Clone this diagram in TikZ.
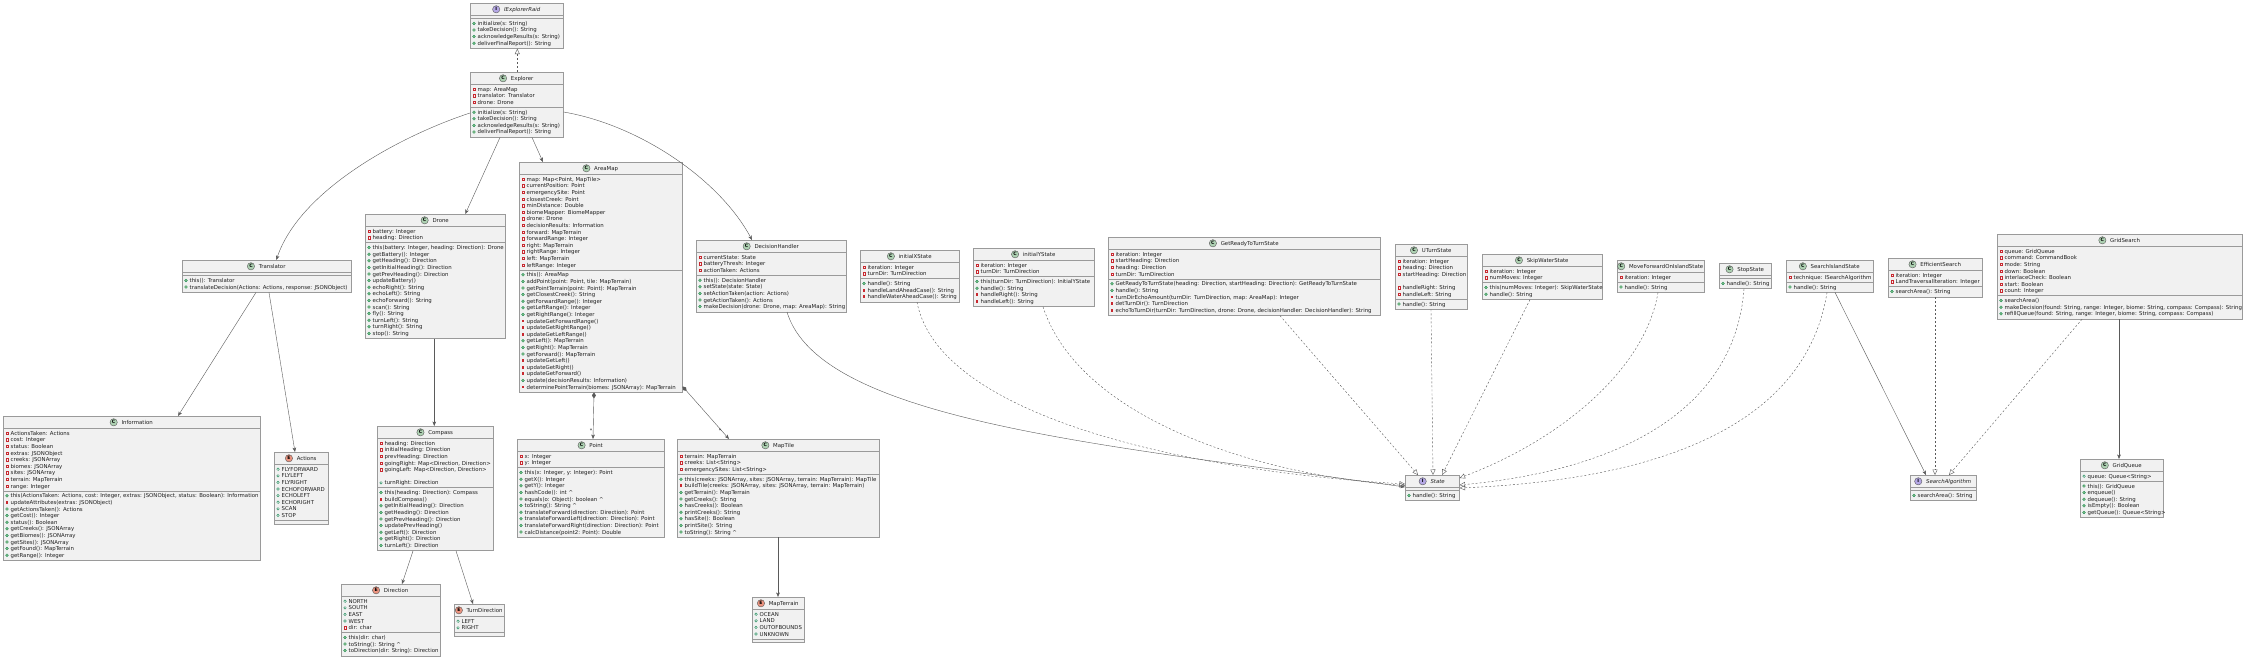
\documentclass[tikz,border=0pt]{standalone}
\usepackage{fontspec}
\setmainfont{DejaVu Sans}
\usetikzlibrary{arrows.meta,calc}
\definecolor{boxfill}{HTML}{F1F1F1}
\definecolor{boxline}{HTML}{9A9A9A}
\definecolor{conline}{HTML}{5A5A5A}
\definecolor{cicon}{HTML}{ADD1B2}
\definecolor{eicon}{HTML}{EB937F}
\definecolor{iicon}{HTML}{B4A7E5}
\definecolor{privc}{HTML}{C82930}
\definecolor{pubc}{HTML}{038048}
\definecolor{pubf}{HTML}{84BE84}
\definecolor{protc}{HTML}{B38D22}
\definecolor{txt}{HTML}{202020}
\newcommand\rowfont{\fontsize{5.4}{6.6}\selectfont}
\tikzset{
  umlbox/.style={draw=boxline,fill=boxfill,line width=0.55pt,inner sep=0pt,rectangle},
  sepline/.style={draw=boxline,line width=0.55pt},
  rowtext/.style={anchor=base west,inner sep=0pt,font=\rowfont,text=txt},
  titletext/.style={anchor=base,inner sep=0pt,font=\rowfont,text=txt},
  iconsty/.style={circle,draw=conline,line width=0.4pt,minimum size=7.3pt,inner sep=0pt,font=\bfseries\fontsize{4.6}{4.6}\selectfont,text=black},
  iconC/.style={fill=cicon},
  iconE/.style={fill=eicon},
  iconI/.style={fill=iicon},
  assoc/.style={draw=conline,line width=0.4pt,-{Stealth[length=4.5pt,width=3.6pt,inset=1.3pt]}},
  realize/.style={draw=conline,line width=0.4pt,dashed,dash pattern=on 2pt off 2pt,-{Triangle[open,length=5.5pt,width=5pt]}},
  compo/.style={draw=conline,line width=0.4pt,{Diamond[length=6pt,width=4pt]}-{Stealth[length=4.5pt,width=3.6pt,inset=1.3pt]}},
  mult/.style={font=\fontsize{5}{5}\selectfont,inner sep=0.5pt,text=txt}
}
\newcount\rowcount
\def\by{0}
\newcommand\R[2]{}
\newcommand\markpf{\draw[privc,line width=0.35pt,shift={(\bmx,\by)}] (-1.2,-1.2) rectangle (1.2,1.2);}
\newcommand\markpm{\fill[privc,shift={(\bmx,\by)}] (-1.4,-1.4) rectangle (1.4,1.4);}
\newcommand\markuf{\draw[pubc,line width=0.35pt] (\bmx,\by) circle[radius=1.3pt];}
\newcommand\markum{\fill[pubf,draw=pubc,line width=0.25pt] (\bmx,\by) circle[radius=1.45pt];}
\newcommand\marknn{}
\newcommand\rowdraw[2]{%
  \csname mark#1\endcsname
  \pgfmathsetmacro\bybase{\by+2}%
  \node[rowtext] at (\bxt,\bybase) {#2};%
  \pgfmathsetmacro\tmpy{\by+6.6}\global\let\by\tmpy
}
\newcommand\rowcnt[2]{\global\advance\rowcount by 1\relax}
\newcommand\umlclass[8]{%
  \let\R\rowcnt
  \global\rowcount=0 #7\edef\nattr{\the\rowcount}%
  \global\rowcount=0 #8\edef\nmeth{\the\rowcount}%
  \pgfmathsetmacro\sepA{#4+12.3}%
  \pgfmathsetmacro\sepB{\sepA+\nattr*6.6+3.2}%
  \pgfmathsetmacro\bot{\sepB+\nmeth*6.6+3.2}%
  \pgfmathsetmacro\bw{#3-#2}%
  \pgfmathsetmacro\bh{\bot-#4}%
  \node[umlbox,minimum width=\bw pt,minimum height=\bh pt,anchor=north west] (#1) at (#2,#4) {};%
  \draw[sepline] (#2,\sepA) -- (#3,\sepA) (#2,\sepB) -- (#3,\sepB);%
  \pgfmathsetmacro\tcx{(#2+#3)/2+5.65}%
  \pgfmathsetmacro\tcy{#4+8.3}%
  \node[titletext] (#1-t) at (\tcx,\tcy) {#6};%
  \node[iconsty,icon#5] (#1-i) at ($(#1-t.base west)+(-7.65,-2)$) {#5};%
  \pgfmathsetmacro\bmx{#2+4}%
  \pgfmathsetmacro\bxt{#2+7.5}%
  \let\R\rowdraw
  \pgfmathsetmacro\tmpy{\sepA+4.9}\global\let\by\tmpy
  #7%
  \pgfmathsetmacro\tmpy{\sepB+4.9}\global\let\by\tmpy
  #8%
}
\begin{document}
\begin{tikzpicture}[x=1pt,y=-1pt]
\fill[white] (0,0) rectangle (2244,658);
\useasboundingbox (0,0) rectangle (2244,658);

\umlclass{iexp}{470}{563}{3}{I}{\itshape IExplorerRaid}{}{%
\R{um}{initialize(s: String)}\R{um}{takeDecision(): String}\R{um}{acknowledgeResults(s: String)}\R{um}{deliverFinalReport(): String}}

\umlclass{explorer}{470}{563}{72}{C}{Explorer}{%
\R{pf}{map: AreaMap}\R{pf}{translator: Translator}\R{pf}{drone: Drone}}{%
\R{um}{initialize(s: String)}\R{um}{takeDecision(): String}\R{um}{acknowledgeResults(s: String)}\R{um}{deliverFinalReport(): String}}

\umlclass{translator}{182}{351}{260}{C}{Translator}{}{%
\R{um}{this(): Translator}\R{um}{translateDecision(Actions: Actions, response: JSONObject)}}

\umlclass{info}{3}{260}{416}{C}{Information}{%
\R{pf}{ActionsTaken: Actions}\R{pf}{cost: Integer}\R{pf}{status: Boolean}\R{pf}{extras: JSONObject}\R{pf}{creeks: JSONArray}\R{pf}{biomes: JSONArray}\R{pf}{sites: JSONArray}\R{pf}{terrain: MapTerrain}\R{pf}{range: Integer}}{%
\R{um}{this(ActionsTaken: Actions, cost: Integer, extras: JSONObject, status: Boolean): Information}\R{pm}{updateAttributes(extras: JSONObject)}\R{um}{getActionsTaken(): Actions}\R{um}{getCost(): Integer}\R{um}{status(): Boolean}\R{um}{getCreeks(): JSONArray}\R{um}{getBiomes(): JSONArray}\R{um}{getSites(): JSONArray}\R{um}{getFound(): MapTerrain}\R{um}{getRange(): Integer}}

\umlclass{actions}{274}{328}{452}{E}{Actions}{%
\R{uf}{FLYFORWARD}\R{uf}{FLYLEFT}\R{uf}{FLYRIGHT}\R{uf}{ECHOFORWARD}\R{uf}{ECHOLEFT}\R{uf}{ECHORIGHT}\R{uf}{SCAN}\R{uf}{STOP}}{}

\umlclass{drone}{365}{505}{214}{C}{Drone}{%
\R{pf}{battery: Integer}\R{pf}{heading: Direction}}{%
\R{um}{this(battery: Integer, heading: Direction): Drone}\R{um}{getBattery(): Integer}\R{um}{getHeading(): Direction}\R{um}{getInitialHeading(): Direction}\R{um}{getPrevHeading(): Direction}\R{um}{updateBattery()}\R{um}{echoRight(): String}\R{um}{echoLeft(): String}\R{um}{echoForward(): String}\R{um}{scan(): String}\R{um}{fly(): String}\R{um}{turnLeft(): String}\R{um}{turnRight(): String}\R{um}{stop(): String}}

\umlclass{compass}{377}{493}{426}{C}{Compass}{%
\R{pf}{heading: Direction}\R{pf}{initialHeading: Direction}\R{pf}{prevHeading: Direction}\R{pf}{goingRight: Map<Direction, Direction>}\R{pf}{goingLeft: Map<Direction, Direction>}\R{nn}{}\R{uf}{turnRight: Direction}}{%
\R{um}{this(heading: Direction): Compass}\R{pm}{buildCompass()}\R{um}{getInitialHeading(): Direction}\R{um}{getHeading(): Direction}\R{um}{getPrevHeading(): Direction}\R{um}{updatePrevHeading()}\R{um}{getLeft(): Direction}\R{um}{getRight(): Direction}\R{um}{turnLeft(): Direction}}

\umlclass{direction}{341}{440}{584}{E}{Direction}{%
\R{uf}{NORTH}\R{uf}{SOUTH}\R{uf}{EAST}\R{uf}{WEST}\R{pf}{dir: char}}{%
\R{um}{this(dir: char)}\R{um}{toString(): String \textasciicircum}\R{um}{toDirection(dir: String): Direction}}

\umlclass{turndir}{454}{504}{604}{E}{TurnDirection}{\R{uf}{LEFT}\R{uf}{RIGHT}}{}

\umlclass{areamap}{519}{682}{162}{C}{AreaMap}{%
\R{pf}{map: Map<Point, MapTile>}\R{pf}{currentPosition: Point}\R{pf}{emergencySite: Point}\R{pf}{closestCreek: Point}\R{pf}{minDistance: Double}\R{pf}{biomeMapper: BiomeMapper}\R{pf}{drone: Drone}\R{pf}{decisionResults: Information}\R{pf}{forward: MapTerrain}\R{pf}{forwardRange: Integer}\R{pf}{right: MapTerrain}\R{pf}{rightRange: Integer}\R{pf}{left: MapTerrain}\R{pf}{leftRange: Integer}}{%
\R{um}{this(): AreaMap}\R{um}{addPoint(point: Point, tile: MapTerrain)}\R{um}{getPointTerrain(point: Point): MapTerrain}\R{um}{getClosestCreek(): String}\R{um}{getForwardRange(): Integer}\R{um}{getLeftRange(): Integer}\R{um}{getRightRange(): Integer}\R{pm}{updateGetForwardRange()}\R{pm}{updateGetRightRange()}\R{pm}{updateGetLeftRange()}\R{um}{getLeft(): MapTerrain}\R{um}{getRight(): MapTerrain}\R{um}{getForward(): MapTerrain}\R{pm}{updateGetLeft()}\R{pm}{updateGetRight()}\R{pm}{updateGetForward()}\R{um}{update(decisionResults: Information)}\R{pm}{determinePointTerrain(biomes: JSONArray): MapTerrain}}

\umlclass{point}{517}{664}{439}{C}{Point}{%
\R{pf}{x: Integer}\R{pf}{y: Integer}}{%
\R{um}{this(x: Integer, y: Integer): Point}\R{um}{getX(): Integer}\R{um}{getY(): Integer}\R{um}{hashCode(): int \textasciicircum}\R{um}{equals(o: Object): boolean \textasciicircum}\R{um}{toString(): String \textasciicircum}\R{um}{translateForward(direction: Direction): Point}\R{um}{translateForwardLeft(direction: Direction): Point}\R{um}{translateForwardRight(direction: Direction): Point}\R{um}{calcDistance(point2: Point): Double}}

\umlclass{maptile}{677}{879}{439}{C}{MapTile}{%
\R{pf}{terrain: MapTerrain}\R{pf}{creeks: List<String>}\R{pf}{emergencySites: List<String>}}{%
\R{um}{this(creeks: JSONArray, sites: JSONArray, terrain: MapTerrain): MapTile}\R{pm}{buildTile(creeks: JSONArray, sites: JSONArray, terrain: MapTerrain)}\R{um}{getTerrain(): MapTerrain}\R{um}{getCreeks(): String}\R{um}{hasCreeks(): Boolean}\R{um}{printCreeks(): String}\R{um}{hasSite(): Boolean}\R{um}{printSite(): String}\R{um}{toString(): String \textasciicircum}}

\umlclass{mapterrain}{752}{804}{597}{E}{MapTerrain}{%
\R{uf}{OCEAN}\R{uf}{LAND}\R{uf}{OUTOFBOUNDS}\R{uf}{UNKNOWN}}{}

\umlclass{dh}{696}{846}{240}{C}{DecisionHandler}{%
\R{pf}{currentState: State}\R{pf}{batteryThresh: Integer}\R{pf}{actionTaken: Actions}}{%
\R{um}{this(): DecisionHandler}\R{um}{setState(state: State)}\R{um}{setActionTaken(action: Actions)}\R{um}{getActionTaken(): Actions}\R{um}{makeDecision(drone: Drone, map: AreaMap): String}}

\umlclass{ix}{860}{959}{250}{C}{initialXState}{%
\R{pf}{iteration: Integer}\R{pf}{turnDir: TurnDirection}}{%
\R{um}{handle(): String}\R{pm}{handleLandAheadCase(): String}\R{pm}{handleWaterAheadCase(): String}}

\umlclass{iy}{973}{1094}{248}{C}{initialYState}{%
\R{pf}{iteration: Integer}\R{pf}{turnDir: TurnDirection}}{%
\R{um}{this(turnDir: TurnDirection): InitialYState}\R{um}{handle(): String}\R{pm}{handleRight(): String}\R{pm}{handleLeft(): String}}

\umlclass{grtt}{1108}{1380}{237}{C}{GetReadyToTurnState}{%
\R{pf}{iteration: Integer}\R{pf}{startHeading: Direction}\R{pf}{heading: Direction}\R{pf}{turnDir: TurnDirection}}{%
\R{um}{GetReadyToTurnState(heading: Direction, startHeading: Direction): GetReadyToTurnState}\R{um}{handle(): String}\R{pm}{turnDirEchoAmount(turnDir: TurnDirection, map: AreaMap): Integer}\R{pm}{detTurnDir(): TurnDirection}\R{pm}{echoToTurnDir(turnDir: TurnDirection, drone: Drone, decisionHandler: DecisionHandler): String}}

\umlclass{uturn}{1395}{1467}{244}{C}{UTurnState}{%
\R{pf}{iteration: Integer}\R{pf}{heading: Direction}\R{pf}{startHeading: Direction}\R{nn}{}\R{pf}{handleRight: String}\R{pf}{handleLeft: String}}{%
\R{um}{handle(): String}}

\umlclass{skip}{1482}{1602}{254}{C}{SkipWaterState}{%
\R{pf}{iteration: Integer}\R{pf}{numMoves: Integer}}{%
\R{um}{this(numMoves: Integer): SkipWaterState}\R{um}{handle(): String}}

\umlclass{mfo}{1617}{1704}{260}{C}{MoveForwardOnIslandState}{%
\R{pf}{iteration: Integer}}{\R{um}{handle(): String}}

\umlclass{stop}{1719}{1771}{263}{C}{StopState}{}{\R{um}{handle(): String}}

\umlclass{sis}{1786}{1873}{260}{C}{SearchIslandState}{%
\R{pf}{technique: ISearchAlgorithm}}{\R{um}{handle(): String}}

\umlclass{eff}{1888}{1982}{258}{C}{EfficientSearch}{%
\R{pf}{iteration: Integer}\R{pf}{LandTraversalIteration: Integer}}{\R{um}{searchArea(): String}}

\umlclass{gs}{1997}{2242}{234}{C}{GridSearch}{%
\R{pf}{queue: GridQueue}\R{pf}{command: CommandBook}\R{pf}{mode: String}\R{pf}{down: Boolean}\R{pf}{interlaceCheck: Boolean}\R{pf}{start: Boolean}\R{pf}{count: Integer}}{%
\R{um}{searchArea()}\R{um}{makeDecision(found: String, range: Integer, biome: String, compass: Compass): String}\R{um}{refillQueue(found: String, range: Integer, biome: String, compass: Compass)}}

\umlclass{state}{1405}{1459}{475}{I}{\itshape State}{}{\R{um}{handle(): String}}

\umlclass{salg}{1910}{1976}{475}{I}{\itshape SearchAlgorithm}{}{\R{um}{searchArea(): String}}

\umlclass{gq}{2080}{2163}{459}{C}{GridQueue}{%
\R{uf}{queue: Queue<String>}}{%
\R{um}{this(): GridQueue}\R{um}{enqueue()}\R{um}{dequeue(): String}\R{um}{isEmpty(): Boolean}\R{um}{getQueue(): Queue<String>}}

% connectors
\draw[realize] ($(explorer.north)+(0.5,0)$) -- ($(iexp.south)+(0.5,0)$);
\draw[assoc] ($(explorer.north west)+(0,41)$) .. controls (400,136) and (300,190) .. ($(translator.north)+(9.5,0)$);
\draw[assoc] ($(explorer.south west)+(30,0)$) -- ($(drone.north)+(30,0)$);
\draw[assoc] ($(explorer.south west)+(62,0)$) -- ($(areamap.north west)+(24,0)$);
\draw[assoc] ($(explorer.north east)+(0,40)$) .. controls (640,125) and (720,180) .. ($(dh.north west)+(56,0)$);
\draw[assoc] ($(translator.south west)+(74,0)$) -- ($(info.north west)+(175,0)$);
\draw[assoc] ($(translator.south west)+(87,0)$) -- ($(actions.north west)+(21,0)$);
\draw[assoc] ($(drone.south)+(-1,0)$) -- ($(compass.north)+(-1,0)$);
\draw[assoc] ($(compass.south west)+(36,0)$) -- ($(direction.north west)+(61,0)$);
\draw[assoc] ($(compass.south west)+(79,0)$) -- ($(turndir.north west)+(19,0)$);
\draw[compo] ($(areamap.south west)+(75,0)$) -- node[mult,pos=0.82,left] {*} ($(point.north west)+(76,0)$);
\draw[compo] ($(areamap.south east)+(0,-6)$) -- node[mult,pos=0.85,left] {*} ($(maptile.north west)+(52,0)$);
\draw[assoc] ($(maptile.south west)+(101,0)$) -- ($(mapterrain.north west)+(26,0)$);
\draw[assoc] ($(dh.south west)+(91,0)$) .. controls (820,420) and (1100,445) .. ($(state.north west)+(0,12)$);
\draw[realize] ($(ix.south west)+(57,0)$) .. controls (940,420) and (1200,472) .. ($(state.north west)+(0,9)$);
\draw[realize] ($(iy.south west)+(70,0)$) .. controls (1080,420) and (1260,475) .. ($(state.north west)+(0,10.5)$);
\draw[realize] ($(grtt.south west)+(172,0)$) -- ($(state.north west)+(13,0)$);
\draw[realize] ($(uturn.south west)+(36,0)$) -- ($(state.north west)+(28,0)$);
\draw[realize] ($(skip.south west)+(48,0)$) -- ($(state.north west)+(37,0)$);
\draw[realize] ($(mfo.south west)+(41,0)$) .. controls (1645,370) and (1560,440) .. ($(state.north east)+(0,3)$);
\draw[realize] ($(stop.south west)+(25,0)$) .. controls (1735,410) and (1620,470) .. ($(state.north east)+(0,10)$);
\draw[realize] ($(sis.south west)+(41,0)$) .. controls (1805,430) and (1650,480) .. ($(state.north east)+(0,13)$);
\draw[assoc] ($(sis.south west)+(49,0)$) -- ($(salg.north west)+(16,0)$);
\draw[realize] ($(eff.south west)+(47,0)$) -- ($(salg.north west)+(25,0)$);
\draw[realize] ($(gs.south west)+(85,0)$) -- ($(salg.north west)+(39,0)$);
\draw[assoc] ($(gs.south west)+(122,0)$) -- ($(gq.north west)+(39,0)$);
\end{tikzpicture}
\end{document}
